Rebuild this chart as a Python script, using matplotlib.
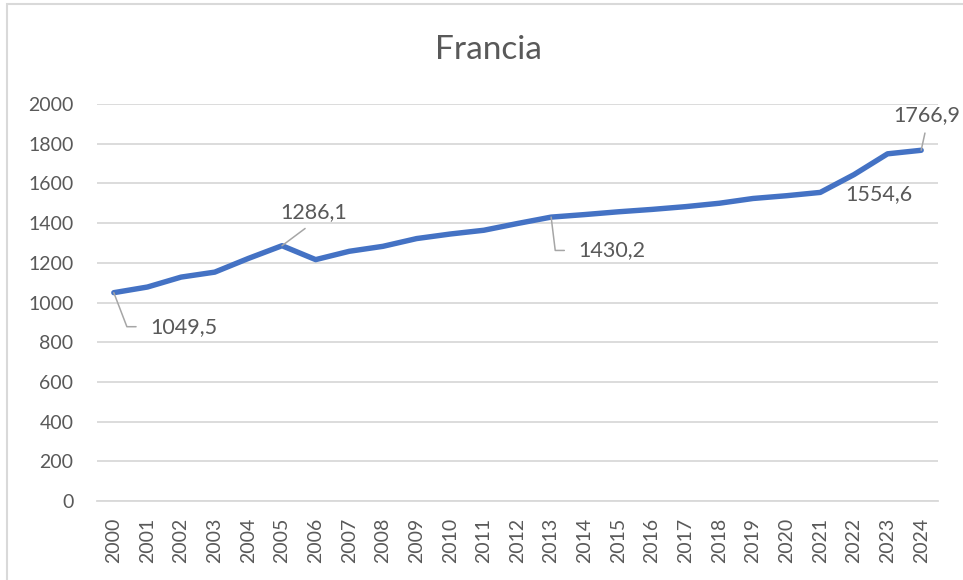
import matplotlib
matplotlib.use("Agg")
import matplotlib.pyplot as plt
from matplotlib.patches import Rectangle

years = list(range(2000, 2025))
values = [1049.5, 1078, 1128, 1153, 1222, 1286.1, 1216, 1258, 1283, 1322,
          1345, 1364, 1398, 1430.2, 1443, 1457, 1469, 1483, 1500, 1524,
          1538, 1554.6, 1644, 1749, 1766.9]
yticks = list(range(0, 2001, 200))

# labelled points: year -> (offset in points, ha, va, leader settings)
labelled = {
    2000: dict(xytext=(26, -24.5), ha="left", va="center",
               arrow=dict(relpos=(0, 0.5), shrinkA=8,
                          connectionstyle="angle,angleA=0,angleB=-69,rad=0")),
    2005: dict(xytext=(22.5, 24), ha="center", va="center",
               arrow=dict(relpos=(0.5, 0), shrinkA=4, connectionstyle="arc3")),
    2013: dict(xytext=(19.5, -24), ha="left", va="center",
               arrow=dict(relpos=(0, 0.5), shrinkA=8,
                          connectionstyle="angle,angleA=0,angleB=-83,rad=0")),
    2021: dict(xytext=(18, -1.5), ha="left", va="center", arrow=None),
    2024: dict(xytext=(4, 25.5), ha="center", va="center",
               arrow=dict(relpos=(0.5, 0), shrinkA=4, connectionstyle="arc3")),
}

plt.rcParams["font.family"] = ["Lato", "DejaVu Sans"]
TEXT = "#595959"
GRID = "#D9D9D9"

fig = plt.figure(figsize=(9.63, 5.8), dpi=100)
ax = fig.add_axes([97 / 963, 1 - 501 / 580, (938 - 97) / 963, (501 - 104) / 580])

ax.plot(years, values, color="#4472C4", lw=3.9, solid_joinstyle="round",
        solid_capstyle="round", zorder=3)

for yr, opt in labelled.items():
    v = values[years.index(yr)]
    txt = f"{v:.1f}".replace(".", ",")
    arrowprops = None
    if opt["arrow"] is not None:
        arrowprops = dict(arrowstyle="-", color="#A6A6A6", lw=1.1, shrinkB=0,
                          **opt["arrow"])
    ax.annotate(txt, xy=(yr, v), xytext=opt["xytext"], textcoords="offset points",
                ha=opt["ha"], va=opt["va"], fontsize=15.5, color=TEXT,
                arrowprops=arrowprops, zorder=4)

ax.set_xlim(1999.5, 2024.5)
ax.set_ylim(0, 2000)
ax.set_yticks(yticks)
ax.set_xticks(years)
ax.set_xticklabels([str(y) for y in years], rotation=90)
ax.tick_params(axis="both", length=0, labelsize=14, labelcolor=TEXT)
ax.tick_params(axis="y", pad=17)
ax.tick_params(axis="x", pad=12)
ax.grid(axis="y", color=GRID, lw=1.3)
ax.set_axisbelow(True)
for side in ["top", "right", "left"]:
    ax.spines[side].set_visible(False)
ax.spines["bottom"].set_color(GRID)
ax.spines["bottom"].set_linewidth(1.3)

fig.text(488 / 963, 1 - 50 / 580, "Francia", ha="center", va="center",
         fontsize=24, color=TEXT)

fig.patches.append(Rectangle((7 / 963, -0.1), 2, 1.1 - 4 / 580,
                             transform=fig.transFigure, fill=False,
                             edgecolor=GRID, lw=1.5))

fig.savefig("out.png", dpi=100)
